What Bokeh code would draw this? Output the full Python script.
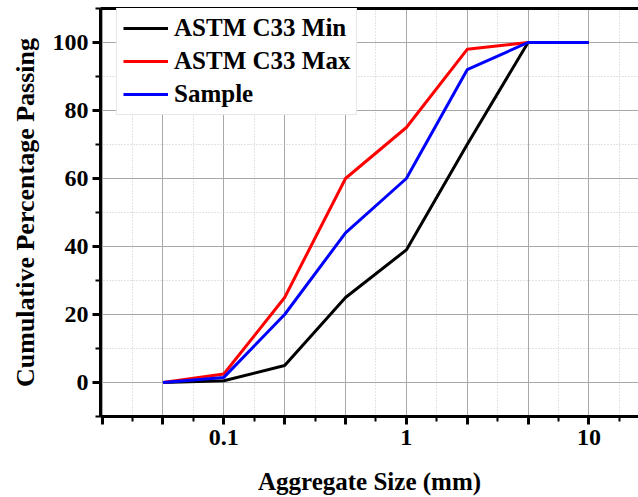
from bokeh.plotting import figure
from bokeh.models import (FixedTicker, LinearAxis, Legend, LegendItem,
                          CustomJSTickFormatter)
from bokeh.embed import file_html
from bokeh.resources import INLINE

# ---- data ----
sizes = [0.0464, 0.1, 0.2154, 0.4642, 1.0, 2.154, 4.642, 10.0]
astm_min = [0, 0.5, 5, 25, 39, 70, 100, 100]
astm_max = [0, 2.5, 25, 60, 75, 98, 100, 100]
sample = [0, 1.5, 20, 44, 60, 92, 100, 100]

y_major = [0, 20, 40, 60, 80, 100]
y_minor = [-10, 10, 30, 50, 70, 90, 110]

FONT = "'Liberation Serif', 'Times New Roman', serif"

p = figure(width=638, height=497, x_axis_type="log",
           x_range=(0.0211, 18.7), y_range=(-10, 110),
           output_backend="svg", toolbar_location=None,
           min_border_left=100, min_border_right=0, min_border_top=8,
           min_border_bottom=80)
p.outline_line_color = None
p.background_fill_color = "white"
p.border_fill_color = "white"

# x ticks: majors every 1/3 decade, minors halfway
x_major = [10 ** (k / 3) for k in range(-5, 5)]
x_minor = [10 ** ((2 * k + 1) / 6) for k in range(-6, 5)]
p.xaxis.ticker = FixedTicker(ticks=x_major, minor_ticks=x_minor)
p.xaxis.formatter = CustomJSTickFormatter(code="""
const l = Math.log10(tick);
return Math.abs(l - Math.round(l)) < 1e-6 ? String(Math.round(tick*1000)/1000) : "";
""")
p.yaxis.ticker = FixedTicker(ticks=y_major, minor_ticks=y_minor)

for ax in (p.xaxis[0], p.yaxis[0]):
    ax.axis_line_width = 3
    ax.axis_line_color = "black"
    ax.major_tick_line_width = 3
    ax.minor_tick_line_width = 2
    ax.major_tick_out = 8
    ax.major_tick_in = 0
    ax.minor_tick_out = 5
    ax.minor_tick_in = 0
    ax.major_label_text_font = FONT
    ax.major_label_text_font_style = "bold"
    ax.major_label_text_font_size = "24px"
    ax.major_label_text_color = "black"
    ax.axis_label_text_font = FONT
    ax.axis_label_text_font_style = "bold"
    ax.axis_label_text_color = "black"

p.xaxis.major_label_standoff = 5
p.yaxis.major_label_standoff = 4
p.xaxis.axis_label_text_font_size = "25px"
p.yaxis.axis_label_text_font_size = "26px"
p.xaxis.axis_label = "Aggregate Size (mm)"
p.yaxis.axis_label = "Cumulative Percentage Passing"
p.xaxis.axis_label_standoff = 20
p.yaxis.axis_label_standoff = 10

# top frame line
top = LinearAxis(ticker=FixedTicker(ticks=[]), axis_line_width=3,
                 major_label_text_font_size="0px")
p.add_layout(top, "above")

# grids
for g in (p.xgrid[0], p.ygrid[0]):
    g.grid_line_color = "#a8a8a8"
    g.grid_line_width = 1
    g.minor_grid_line_color = "#c8c8c8"
    g.minor_grid_line_dash = "1 2"
    g.minor_grid_line_width = 1

r_min = p.line(sizes, astm_min, line_color="black", line_width=3)
r_max = p.line(sizes, astm_max, line_color="#ff0000", line_width=3)
r_s = p.line(sizes, sample, line_color="#0000ff", line_width=3)

legend = Legend(items=[LegendItem(label="ASTM C33 Min", renderers=[r_min]),
                       LegendItem(label="ASTM C33 Max", renderers=[r_max]),
                       LegendItem(label="Sample", renderers=[r_s])],
                location=(16, 301))
legend.label_text_font = FONT
legend.label_text_font_style = "bold"
legend.label_text_font_size = "25px"
legend.label_text_color = "black"
legend.glyph_width = 45
legend.glyph_height = 26
legend.label_height = 26
legend.label_standoff = 6
legend.spacing = 5
legend.padding = 6
legend.margin = 0
legend.border_line_color = "#d0d0d0"
legend.border_line_width = 1
legend.background_fill_alpha = 1.0
p.add_layout(legend, "center")

open("out.html", "w").write(file_html(p, INLINE))
